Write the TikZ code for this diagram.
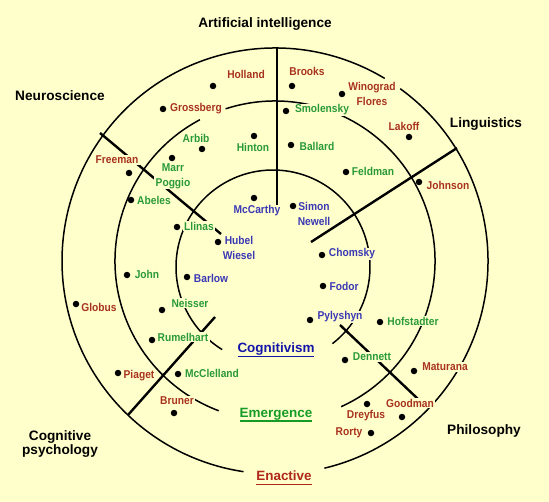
\documentclass[tikz,border=0pt]{standalone}
\usepackage{fontspec}
\setmainfont{Liberation Sans}
\newfontfamily\namefont[FakeStretch=0.9]{Liberation Sans}

\definecolor{paper}{HTML}{FFFFCC}
\definecolor{enred}{HTML}{A8321E}
\definecolor{emgreen}{HTML}{2A9A38}
\definecolor{cgblue}{HTML}{3A38B4}
\definecolor{schoolblue}{HTML}{1414A8}
\definecolor{schoolgreen}{HTML}{169C26}
\definecolor{schoolred}{HTML}{B0281A}

\newcommand{\ulbar}[1]{\setbox0=\hbox{#1}\dimen0=\wd0 \rlap{\box0}\rule[-4.2bp]{\dimen0}{1.3bp}}

\begin{document}
\begin{tikzpicture}[x=1bp,y=-1bp,
   dot/.style={shape=circle,fill=black,inner sep=0pt,minimum size=6.5bp},
   who/.style={font=\namefont\fontsize{11.4}{15}\selectfont\bfseries,fill=paper,inner xsep=1.5bp,inner ysep=0.6bp,align=center},
   en/.style={who,text=enred},
   em/.style={who,text=emgreen},
   cg/.style={who,text=cgblue},
   field/.style={font=\fontsize{13.7}{14.5}\selectfont\bfseries,align=center},
   school/.style={font=\fontsize{13.5}{15}\selectfont\bfseries},
   ring/.style={line width=1.5bp},
   border/.style={line width=2.4bp}]

   \fill[paper] (0,0) rectangle (549,502);

   \draw[ring] (275,261) ++(-54:213) arc[start angle=-54,end angle=76.6,radius=213];
   \draw[ring] (275,261) ++(-59:213) arc[start angle=-59,end angle=-261.5,radius=213];
   \draw[ring] (275,261) ++(65.6:160) arc[start angle=65.6,end angle=-108,radius=160];
   \draw[ring] (275,261) ++(-118:160) arc[start angle=-118,end angle=-249.4,radius=160];
   \draw[ring] (273,267) ++(52.2:97) arc[start angle=52.2,end angle=-238.4,radius=97];

   \coordinate (ai1) at (277,48);   \coordinate (ai2) at (277,207);
   \coordinate (ne1) at (100,133);  \coordinate (ne2) at (221,234);
   \coordinate (li1) at (457,148);  \coordinate (li2) at (311,242);
   \coordinate (ph1) at (340,325);  \coordinate (ph2) at (418,399);
   \coordinate (cp1) at (128,415);  \coordinate (cp2) at (215,317);

   \path[border] (ai1) edge (ai2);
   \path[border] (ne1) edge (ne2);
   \path[border] (li1) edge (li2);
   \path[border] (ph1) edge (ph2);
   \path[border] (cp1) edge (cp2);

   \node[en] (holland) at (246,74) {Holland};        \node[dot] (1) at (213,86) {};
   \node[en] (brooks) at (307,71) {Brooks};          \node[dot] (2) at (292,86) {};
   \node[en] (winograd) at (372,94) {Winograd\\Flores}; \node[dot] (3) at (342,94) {};
   \node[en] (lakoff) at (404,126) {Lakoff};         \node[dot] (4) at (409,137) {};
   \node[en] (grossberg) at (196,109) {Grossberg};   \node[dot] (5) at (163,109) {};
   \node[en] (freeman) at (117,160) {Freeman};       \node[dot] (6) at (129,173) {};
   \node[en] (johnson) at (448,185) {Johnson};       \node[dot] (7) at (419,182) {};
   \node[en] (globus) at (99,307) {Globus};          \node[dot] (8) at (76,304) {};
   \node[en] (piaget) at (139,376) {Piaget};         \node[dot] (9) at (118,373) {};
   \node[en] (bruner) at (177,401) {Bruner};         \node[dot] (10) at (174,413) {};
   \node[en] (maturana) at (445,367) {Maturana};     \node[dot] (11) at (414,371) {};
   \node[en] (goodman) at (410,403) {Goodman};       \node[dot] (12) at (402,417) {};
   \node[en] (dreyfus) at (366,416) {Dreyfus};       \node[dot] (13) at (367,404) {};
   \node[en] (rorty) at (349,433) {Rorty};           \node[dot] (14) at (371,433) {};

   \node[em] (smolensky) at (322,110) {Smolensky};   \node[dot] (15) at (286,111) {};
   \node[em] (arbib) at (196,138) {Arbib};           \node[dot] (16) at (202,149) {};
   \node[em] (hinton) at (253,147) {Hinton};         \node[dot] (17) at (254,136) {};
   \node[em] (ballard) at (317,146) {Ballard};       \node[dot] (18) at (291,145) {};
   \node[em] (marr) at (173,176) {Marr\\Poggio};     \node[dot] (19) at (172,158) {};
   \node[em] (feldman) at (373,171) {Feldman};       \node[dot] (20) at (346,172) {};
   \node[em] (abeles) at (154,200) {Abeles};         \node[dot] (21) at (131,200) {};
   \node[em] (llinas) at (199,226) {Llinas};         \node[dot] (22) at (177,227) {};
   \node[em] (john) at (147,274) {John};             \node[dot] (23) at (127,275) {};
   \node[em] (neisser) at (190,303) {Neisser};       \node[dot] (24) at (162,310) {};
   \node[em] (rumelhart) at (183,337) {Rumelhart};   \node[dot] (25) at (152,340) {};
   \node[em] (mcclelland) at (212,373) {McClelland}; \node[dot] (26) at (178,374) {};
   \node[em] (hofstadter) at (413,321) {Hofstadter}; \node[dot] (27) at (380,322) {};
   \node[em] (dennett) at (372,357) {Dennett};       \node[dot] (28) at (345,360) {};

   \node[cg] (mccarthy) at (257,211) {McCarthy};     \node[dot] (29) at (254,198) {};
   \node[cg] (simon) at (314,214) {Simon\\Newell};   \node[dot] (30) at (293,206) {};
   \node[cg] (hubel) at (239,248) {Hubel\\Wiesel};   \node[dot] (31) at (218,242) {};
   \node[cg] (barlow) at (211,278) {Barlow};         \node[dot] (32) at (187,277) {};
   \node[cg] (chomsky) at (352,254) {Chomsky};       \node[dot] (33) at (322,255) {};
   \node[cg] (fodor) at (344,286) {Fodor};           \node[dot] (34) at (323,286) {};
   \node[cg] (pylyshyn) at (340,317) {Pylyshyn};     \node[dot] (35) at (310,320) {};

   \node[field] (ai) at (265,24) {Artificial intelligence};
   \node[field] (neuro) at (60,96) {Neuroscience};
   \node[field] (ling) at (486,124) {Linguistics};
   \node[field] (psych) at (60,444) {Cognitive\\psychology};
   \node[field] (philo) at (484,431) {Philosophy};

   \node[school,text=schoolblue] (cogn) at (276,350) {\ulbar{Cognitivism}};
   \node[school,text=schoolgreen] (emerg) at (276,415) {\ulbar{Emergence}};
   \node[school,text=schoolred] (enact) at (284,478) {\ulbar{Enactive}};

\end{tikzpicture}
\end{document}
